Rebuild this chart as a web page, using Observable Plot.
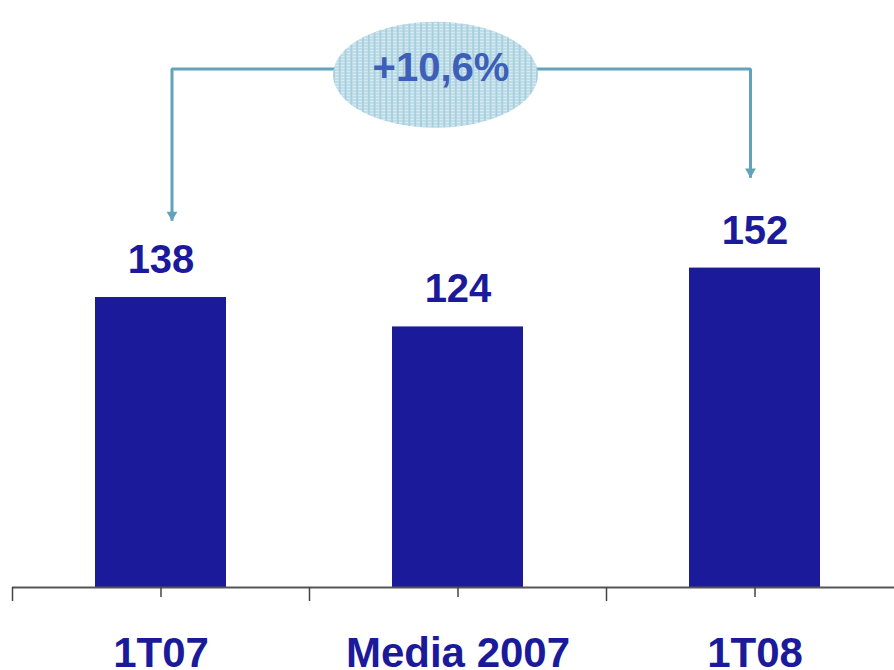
<!DOCTYPE html>
<html>
<head>
<meta charset="utf-8">
<script src="https://cdn.jsdelivr.net/npm/d3@7"></script>
<script src="https://cdn.jsdelivr.net/npm/@observablehq/plot@0.6"></script>
<style>
  html, body { margin: 0; padding: 0; background: #fff; }
  #chart svg { display: block; }
</style>
</head>
<body>
<div id="chart"></div>
<script>
// ---- data ----
const categories = ["1T07", "Media 2007", "1T08"];
const values = [138, 124, 152];
const growthLabel = ["+10,6%"];
// annotation anchors (in data units of the y scale)
const arrowLevel = 246.7;
const leftArrowTip = 174.5;
const rightArrowTip = 195.0;
const ellipseLevel = 244.0;
const growthTextLevel = 241.1;

const bars = categories.map((c, i) => ({ cat: c, value: values[i] }));

// ---- styles ----
const barColor = "#1a1a9a";
const arrowColor = "#62a2bd";
const font = "'Liberation Sans', Arial, Helvetica, sans-serif";
const pxPerUnit = 2.1014;
const baseY = 587;
const step = 297;

const leftArrow = [
  { x: "1T07", y: leftArrowTip },
  { x: "1T07", y: arrowLevel },
  { x: "Media 2007", y: arrowLevel }
];
const rightArrow = [
  { x: "Media 2007", y: arrowLevel },
  { x: "1T08", y: arrowLevel },
  { x: "1T08", y: rightArrowTip }
];

function ellipseRender(rx, ry) {
  return function (index, scales, values, dimensions, context, next) {
    const g = next(index, scales, values, dimensions, context);
    const svgNS = "http://www.w3.org/2000/svg";
    const defs = document.createElementNS(svgNS, "defs");
    defs.innerHTML = `<pattern id="hatch" width="3" height="3" patternUnits="userSpaceOnUse">
        <rect width="3" height="3" fill="#d6eaf2"></rect>
        <rect width="3" height="1" fill="#a8cfde"></rect>
        <rect width="1" height="3" fill="#a8cfde"></rect>
      </pattern>`;
    g.insertBefore(defs, g.firstChild);
    g.querySelectorAll("circle").forEach(c => {
      const cx = +c.getAttribute("cx"), cy = +c.getAttribute("cy");
      c.setAttribute("transform", `translate(${cx},${cy}) scale(${rx / ry},1) translate(${-cx},${-cy})`);
      c.setAttribute("fill", "url(#hatch)");
    });
    return g;
  };
}

const chart = Plot.plot({
  width: 894,
  height: 670,
  marginTop: 0,
  marginLeft: 12,
  marginRight: 0,
  marginBottom: 83,
  style: { fontFamily: font, background: "#fff" },
  x: {
    type: "band",
    domain: categories,
    range: [12, 12 + step * categories.length],
    paddingInner: 0.56,
    paddingOuter: 0.28,
    axis: null
  },
  y: {
    domain: [0, 280],
    range: [baseY, baseY - 280 * pxPerUnit],
    axis: null
  },
  marks: [
    Plot.barY(bars, { x: "cat", y: "value", fill: barColor }),
    // baseline axis
    Plot.ruleY([0], { stroke: "#555", strokeWidth: 2 }),
    // ticks at category centers
    Plot.ruleX(categories, { x: d => d, y1: 0, y2: -10 / pxPerUnit, stroke: "#444", strokeWidth: 1.5 }),
    // ticks at category boundaries
    Plot.ruleX(categories, { x: d => d, dx: -step / 2, y1: 0, y2: -14 / pxPerUnit, stroke: "#444", strokeWidth: 1.5 }),
    // value labels
    Plot.text(bars, {
      x: "cat", y: "value", text: d => String(d.value), dy: -24.5,
      lineAnchor: "bottom", fontSize: 40, fontWeight: "bold", fill: barColor
    }),
    // category labels
    Plot.text(categories, {
      x: d => d, y: () => 0, text: d => d, dy: 79,
      lineAnchor: "bottom", fontSize: 42, fontWeight: "bold", fill: barColor
    }),
    // arrows
    Plot.line(leftArrow, { x: "x", y: "y", dx: 11, stroke: arrowColor, strokeWidth: 3, strokeLinejoin: "miter", strokeLinecap: "butt" }),
    Plot.line(rightArrow, { x: "x", y: "y", dx: -4.5, stroke: arrowColor, strokeWidth: 3, strokeLinejoin: "miter", strokeLinecap: "butt" }),
    Plot.dot([leftArrow[0]], { x: "x", y: "y", dx: 11, dy: -6, symbol: "triangle", rotate: 180, r: 4, fill: arrowColor, stroke: "none" }),
    Plot.dot([rightArrow[2]], { x: "x", y: "y", dx: -4.5, dy: -6, symbol: "triangle", rotate: 180, r: 4, fill: arrowColor, stroke: "none" }),
    // growth ellipse
    Plot.dot(growthLabel, {
      x: () => "Media 2007", y: () => ellipseLevel, dx: -22.5, r: 53,
      fill: "#bddbe7", stroke: "none",
      render: ellipseRender(102.5, 53)
    }),
    Plot.text(growthLabel, {
      x: () => "Media 2007", y: () => growthTextLevel, text: d => d, dx: -17,
      lineAnchor: "bottom", fontSize: 40, fontWeight: "bold", fill: "#3d5fb8"
    })
  ]
});

document.getElementById("chart").appendChild(chart);
</script>
</body>
</html>
